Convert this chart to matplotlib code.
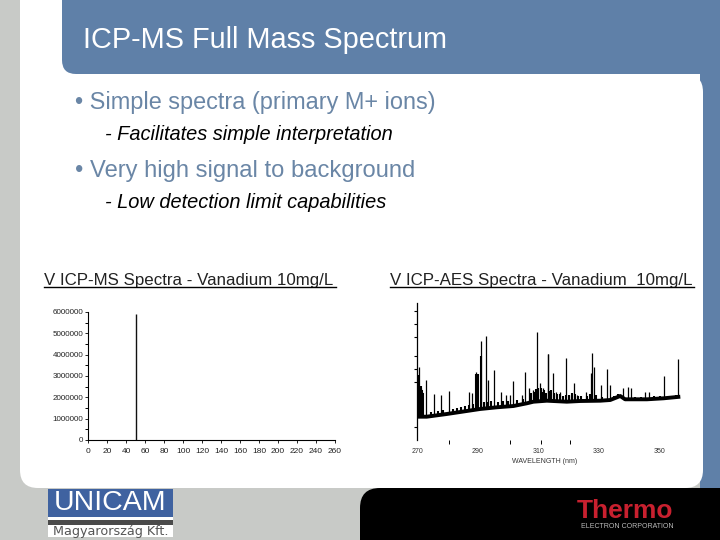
import numpy as np
import matplotlib
matplotlib.use("Agg")
import matplotlib.pyplot as plt
from matplotlib.patches import Rectangle, FancyBboxPatch

plt.rcParams['font.family'] = ['Liberation Sans', 'DejaVu Sans']

# ---------- data ----------
ms_mass = [51]
ms_counts = [5900000]
ms_xticks = list(range(0, 261, 20))
ms_yticks = [0, 1000000, 2000000, 3000000, 4000000, 5000000, 6000000]
ms_ylabels = ['0', '1000000', '2000000', '3000000', '4000000', '5000000', '6000000']

aes_base_wl = [270.1, 273.2, 279.8, 286.4, 290.8, 296.3, 301.8, 306.2, 308.4, 312.8, 319.4,
               323.8, 330.4, 333.7, 337.0, 338.6, 345.8, 351.3, 356.8]
aes_base_val = [23.3, 23.3, 26, 29, 31, 32.7, 34, 36.7, 38.3, 39.3, 38.3,
                39, 39.3, 40, 44, 40.7, 40.7, 41.7, 43.3]
aes_peak_wl = [270.8, 271.2, 271.7, 273.1, 275.7, 277.9, 280.7, 287.3, 288.2, 289.5, 289.8,
               291.2, 292.6, 293.5, 295.5, 297.8, 299.4, 300.7, 301.8, 304.5, 305.6, 307,
               308.2, 309.7, 310.6, 311.7, 313.1, 313.3, 314.7, 315.9, 317.2, 319.2, 320.7,
               321.6, 322.7, 325.8, 327.3, 327.6, 328.4, 330.6, 332.6, 333.7, 337.9, 339.4,
               340.5, 345.1, 346.5, 351.3, 356.2]
aes_peak_val = [73.3, 51.7, 48.3, 60, 45.7, 45, 49, 47.7, 46.7, 68.3, 66,
                99, 104, 60, 70, 47.7, 45, 45, 59, 45, 67.7, 51.7,
                50, 108.3, 56.7, 51.7, 85.7, 85.7, 66.7, 48.3, 48.3, 81.7, 45,
                57.3, 45, 48.3, 66.7, 86.7, 73.3, 55, 71, 55, 51.7, 53.3,
                51.7, 48.3, 48.3, 64, 81]
aes_grass_wl = [270.2, 270.5, 270.9, 271.2, 271.5, 271.9, 289.3, 289.7, 290.1, 291.2,
                274.5, 276.8, 278.6, 281.9, 283.2, 284.6, 285.7, 287, 288.6, 292, 293, 294.3, 296.8,
                298.5, 300, 303, 305, 307.5, 308.5, 309.2, 310, 310.8,
                311.4, 312, 312.6, 313.5, 314.2, 315, 316.3, 317, 318, 319, 320, 321, 322,
                323, 324, 326, 327, 329, 331, 335, 336.2, 341.8, 344, 348, 350, 353.5, 355.4]
aes_grass_val = [65, 52, 50, 54, 50, 47, 66, 66, 66, 84,
                 28, 29, 30, 31, 32, 33, 34, 35, 36, 38, 38, 39, 38,
                 39, 39, 40, 41, 47, 48, 51, 52, 52,
                 48, 50, 47, 49, 50, 47, 46, 46, 44, 45, 45, 47, 46,
                 44, 44, 44, 46, 45, 43, 44, 46, 43, 43, 44, 44, 44, 45]
aes_xlabels = [270, 290, 310, 330, 350]
aes_xminor = [280.7, 300.7, 310.8, 320.5]
aes_yticks = [13, 58, 71, 84, 103, 116, 129]

GRAY = '#C8CAC7'
BLUE = '#5F80A8'
BULLET = '#6A86A6'

fig = plt.figure(figsize=(7.2, 5.4), dpi=100, facecolor='white')

# ---------- slide background, pixel coordinates ----------
bg = fig.add_axes([0, 0, 1, 1])
bg.set_xlim(0, 720)
bg.set_ylim(540, 0)
bg.axis('off')

bg.add_patch(Rectangle((0, 0), 720, 540, fc=GRAY, ec='none'))
bg.add_patch(Rectangle((20, 0), 700, 90, fc='white', ec='none'))
bg.add_patch(FancyBboxPatch((360, 488), 380, 80, boxstyle='round,pad=0,rounding_size=20',
                            fc='black', ec='none', zorder=1))
bg.add_patch(Rectangle((700, 0), 20, 488, fc=BLUE, ec='none', zorder=1))
bg.add_patch(FancyBboxPatch((62, -40), 680, 114, boxstyle='round,pad=0,rounding_size=14',
                            fc=BLUE, ec='none', zorder=1))
bg.add_patch(FancyBboxPatch((20, 74), 683, 414, boxstyle='round,pad=0,rounding_size=18',
                            fc='white', ec='none', zorder=2))
bg.add_patch(Rectangle((20, 74), 40, 30, fc='white', ec='none', zorder=2))

# ---------- slide text ----------
bg.text(83, 39.5, 'ICP-MS Full Mass Spectrum', color='white', fontsize=20.8, va='center', zorder=5)
bg.text(75, 102.5, '• Simple spectra (primary M+ ions)', color=BULLET, fontsize=16.9, va='center', zorder=5)
bg.text(105, 134.5, '- Facilitates simple interpretation', color='black', fontsize=14.4, style='italic', va='center', zorder=5)
bg.text(75, 170.5, '• Very high signal to background', color=BULLET, fontsize=17.1, va='center', zorder=5)
bg.text(105, 202.5, '- Low detection limit capabilities', color='black', fontsize=14.4, style='italic', va='center', zorder=5)

bg.text(44, 280, 'V ICP-MS Spectra - Vanadium 10mg/L', color='#222222', fontsize=12.2, va='center', zorder=5)
bg.plot([44, 336], [286.5, 286.5], color='black', lw=1, zorder=5)
bg.text(390, 280, 'V ICP-AES Spectra - Vanadium  10mg/L', color='#222222', fontsize=12.2, va='center', zorder=5)
bg.plot([390, 694], [286.5, 286.5], color='black', lw=1, zorder=5)

# ---------- logos ----------
bg.add_patch(Rectangle((48, 489), 125, 48, fc='white', ec='none', zorder=3))
bg.add_patch(Rectangle((48, 489), 125, 28, fc='#3F62A0', ec='none', zorder=4))
bg.add_patch(Rectangle((48, 520), 125, 5, fc='#4A4A4A', ec='none', zorder=4))
bg.text(110.5, 503.5, 'UNICAM', color='white', fontsize=20.5, ha='center', va='center', zorder=5)
bg.text(110.5, 531, 'Magyarország Kft.', color='#555555', fontsize=9.2, family='DejaVu Sans',
        ha='center', va='center', zorder=5)
bg.text(625, 511, 'Thermo', color='#C8202F', fontsize=19, fontweight='bold', ha='center', va='center', zorder=5)
bg.text(627, 526, 'ELECTRON CORPORATION', color='#BBBBBB', fontsize=5, ha='center', va='center', zorder=5)


def px_axes(x0, x1, ytop, ybot):
    return fig.add_axes([x0 / 720, 1 - ybot / 540, (x1 - x0) / 720, (ybot - ytop) / 540], facecolor='none')


# ---------- ICP-MS panel ----------
ax1 = px_axes(88, 335, 312, 440)
ax1.vlines(ms_mass, 0, ms_counts, color='#111111', lw=1)
ax1.set_xlim(0, 260)
ax1.set_ylim(0, 6000000)
for s in ('top', 'right'):
    ax1.spines[s].set_visible(False)
for s in ('left', 'bottom'):
    ax1.spines[s].set_linewidth(0.8)
ax1.set_xticks(ms_xticks)
ax1.set_xticklabels([str(t) for t in ms_xticks])
ax1.set_yticks(ms_yticks)
ax1.set_yticklabels(ms_ylabels)
ax1.set_yticks([500000 * k for k in (1, 3, 5, 7, 9, 11)], minor=True)
ax1.tick_params(axis='y', which='major', labelsize=5.8, length=2.5, width=0.7, pad=1, colors='#222222')
ax1.tick_params(axis='x', which='major', labelsize=6, length=2.5, width=0.7, pad=3, colors='#222222')
ax1.tick_params(axis='y', which='minor', length=2.5, width=0.7, direction='out')

# ---------- ICP-AES panel ----------
ax2 = px_axes(417, 690, 303, 440)
ax2.set_xlim(270, 360)
ax2.set_ylim(0, 137)
peak_base = np.interp(aes_peak_wl, aes_base_wl, aes_base_val)
grass_base = np.interp(aes_grass_wl, aes_base_wl, aes_base_val)
ax2.plot(aes_base_wl, aes_base_val, color='black', lw=2.8, solid_capstyle='butt')
ax2.vlines(aes_peak_wl, peak_base, aes_peak_val, color='black', lw=0.9)
ax2.vlines(aes_grass_wl, grass_base, aes_grass_val, color='black', lw=1.5)
for s in ('top', 'right', 'bottom'):
    ax2.spines[s].set_visible(False)
ax2.spines['left'].set_linewidth(0.9)
ax2.set_yticks(aes_yticks)
ax2.set_yticklabels([])
ax2.tick_params(axis='y', length=2.5, width=0.8)
ax2.set_xticks(aes_xlabels)
ax2.set_xticklabels([str(v) for v in aes_xlabels])
ax2.set_xticks(aes_xminor, minor=True)
ax2.tick_params(axis='x', which='major', length=0, labelsize=5, pad=5.5, colors='#333333')
ax2.tick_params(axis='x', which='minor', length=3, width=0.7)
ax2.set_xlabel('WAVELENGTH (nm)', fontsize=5, labelpad=2, color='#333333')
ax2.xaxis.set_label_coords((545 - 417) / 273, -0.13)

fig.savefig('out.png', dpi=100)
